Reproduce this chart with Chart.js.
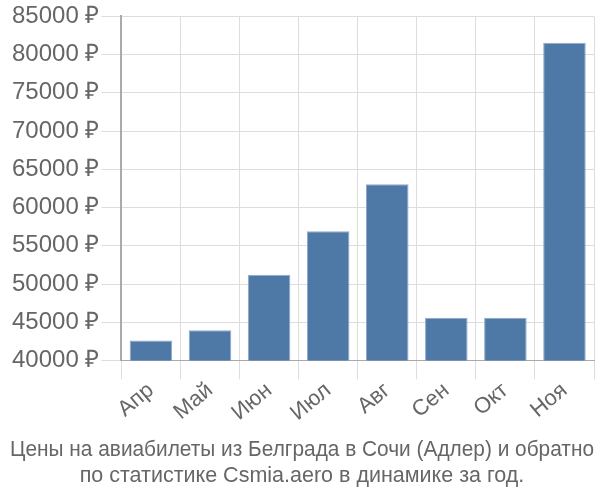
<!DOCTYPE html>
<html>
<head>
<meta charset="utf-8">
<script src="https://cdn.jsdelivr.net/npm/chart.js@4"></script>
<style>
  html, body { margin: 0; padding: 0; background: #fff; }
  #wrap { width: 600px; height: 500px; }
</style>
</head>
<body>
<div id="wrap"><canvas id="chart"></canvas></div>
<script>
// months and average prices (rub)
const months = ['Апр', 'Май', 'Июн', 'Июл', 'Авг', 'Сен', 'Окт', 'Ноя'];
const prices = [42600, 43950, 51200, 56900, 63050, 45600, 45600, 81550];
const titleLines = [
  'Цены на авиабилеты из Белграда в Сочи (Адлер) и обратно',
  'по статистике Csmia.aero в динамике за год.'
];

const textColor = '#666';
const font = 'Liberation Sans, Arial, sans-serif';

new Chart(document.getElementById('chart'), {
  type: 'bar',
  data: {
    labels: months,
    datasets: [{
      data: prices,
      backgroundColor: '#4e79a7',
      borderColor: '#8fa9c9',
      borderWidth: 1
    }]
  },
  options: {
    animation: false,
    responsive: true,
    maintainAspectRatio: false,
    layout: { padding: { left: 10, right: 6, top: 4, bottom: 4 } },
    scales: {
      x: {
        grid: { color: '#ddd', tickLength: 19, offset: true },
        border: { color: '#aaa' },
        ticks: {
          color: textColor,
          padding: -2,
          font: { family: font, size: 22 },
          maxRotation: 40,
          minRotation: 40
        }
      },
      y: {
        min: 40000,
        max: 85000,
        grid: { color: '#ddd', tickLength: 20 },
        border: { color: '#aaa', width: 2 },
        ticks: {
          stepSize: 5000,
          color: textColor,
          padding: 2,
          font: { family: font, size: 24 },
          callback: v => v + ' ₽'
        }
      }
    },
    plugins: {
      legend: { display: false },
      tooltip: { enabled: false },
      title: {
        display: true,
        position: 'bottom',
        text: titleLines,
        color: textColor,
        padding: { top: 13, bottom: 7 },
        font: { family: font, size: 21.5, weight: 'normal', lineHeight: 1.2 }
      }
    }
  }
});
</script>
</body>
</html>
